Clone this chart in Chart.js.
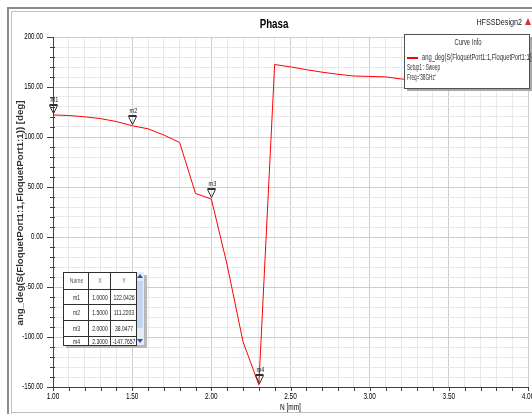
<!DOCTYPE html>
<html>
<head>
<meta charset="utf-8">
<script src="https://cdn.jsdelivr.net/npm/chart.js@4.4.0/dist/chart.umd.min.js"></script>
<style>
  html, body { margin: 0; padding: 0; background: #fff; }
</style>
</head>
<body>
<canvas id="myChart" width="532" height="414"></canvas>
<script>
// sweep N [mm] and phase of S(FloquetPort1:1,FloquetPort1:1) [deg]
const nValues = [1.0, 1.1, 1.2, 1.3, 1.4, 1.5, 1.6, 1.7, 1.8, 1.9, 2.0,
                 2.1, 2.2, 2.3, 2.4, 2.5, 2.6, 2.7, 2.8, 2.9, 3.0,
                 3.1, 3.2, 3.3, 3.4, 3.5, 3.6, 3.7, 3.8, 3.9, 4.0];
const phaseValues = [122.04, 121.5, 120.2, 118.4, 115.5, 111.22, 108.2, 102.0, 94.5, 43.5, 38.05,
                     -28.0, -104.7, -147.77, 172.5, 170.1, 167.3, 164.8, 162.7, 161.0, 160.6,
                     160.1, 158.0, 157.2, 156.6, 156.0, 155.5, 155.0, 154.6, 154.2, 153.8];

// markers m1..m4
const markerNames = ['m1', 'm2', 'm3', 'm4'];
const markerX = [1.0, 1.5, 2.0, 2.3];
const markerY = [122.0426, 111.2203, 38.0477, -147.7657];

// labelled (major) ticks
const xMajorTicks = [1.0, 1.5, 2.0, 2.5, 3.0, 3.5, 4.0];
const yMajorTicks = [-150, -100, -50, 0, 50, 100, 150, 200];

const plotTitle = 'Phasa';
const designName = 'HFSSDesign2';
const xTitle = 'N [mm]';
const curveLabel = 'ang_deg(S(FloquetPort1:1,FloquetPort1:1))';
const yTitle = curveLabel + ' [deg]';
const curveInfo = ['Setup1 : Sweep', "Freq='38GHz'"];

const FONT = "'Liberation Sans', Arial, sans-serif";

function isMajor(list, v) {
    return list.some(m => Math.abs(m - v) < 1e-6);
}

// the original uses a condensed face, squeeze text horizontally
function narrowText(ctx, s, x, y, font, sx, align, rot) {
    ctx.save();
    ctx.font = font;
    ctx.textAlign = align || 'left';
    ctx.textBaseline = 'middle';
    ctx.translate(x, y);
    if (rot) ctx.rotate(rot);
    ctx.scale(sx, 1);
    ctx.fillText(s, 0, 0);
    ctx.restore();
}

const overlay = {
    id: 'overlay',
    afterDraw(chart) {
        const {ctx, chartArea, scales: {x, y}} = chart;
        ctx.save();

        // axis ticks and labels
        ctx.strokeStyle = '#404040';
        ctx.lineWidth = 1;
        ctx.beginPath();
        y.ticks.forEach(t => {
            const py = Math.round(y.getPixelForValue(t.value)) + 0.5;
            if (isMajor(yMajorTicks, t.value)) {
                ctx.moveTo(chartArea.left - 6, py);
                ctx.lineTo(chartArea.left, py);
            } else {
                ctx.moveTo(chartArea.left - 3, py);
                ctx.lineTo(chartArea.left + 2, py);
            }
        });
        x.ticks.forEach(t => {
            const px = Math.round(x.getPixelForValue(t.value)) + 0.5;
            ctx.moveTo(px, chartArea.bottom);
            ctx.lineTo(px, chartArea.bottom + 4);
        });
        ctx.stroke();

        ctx.fillStyle = '#000000';
        y.ticks.forEach(t => {
            if (!isMajor(yMajorTicks, t.value)) return;
            narrowText(ctx, t.value.toFixed(2), chartArea.left - 10, y.getPixelForValue(t.value),
                       '8.5px ' + FONT, 0.72, 'right');
        });
        x.ticks.forEach(t => {
            if (!isMajor(xMajorTicks, t.value)) return;
            narrowText(ctx, t.value.toFixed(2), x.getPixelForValue(t.value), chartArea.bottom + 10,
                       '8.5px ' + FONT, 0.76, 'center');
        });
        narrowText(ctx, xTitle, (chartArea.left + chartArea.right) / 2, chartArea.bottom + 21,
                   '8.5px ' + FONT, 0.76, 'center');
        ctx.fillStyle = '#303030';
        narrowText(ctx, yTitle, 20, (chartArea.top + chartArea.bottom) / 2 + 1,
                   'bold 9.5px ' + FONT, 1.02, 'center', -Math.PI / 2);

        // window frame
        ctx.strokeStyle = '#8c8c8c';
        ctx.lineWidth = 2;
        ctx.beginPath();
        ctx.moveTo(8, 414); ctx.lineTo(8, 8); ctx.lineTo(532, 8);
        ctx.stroke();
        ctx.strokeStyle = '#c0c0c0';
        ctx.lineWidth = 1;
        ctx.beginPath();
        ctx.moveTo(11.5, 414); ctx.lineTo(11.5, 11.5); ctx.lineTo(532, 11.5);
        ctx.moveTo(11, 412.5); ctx.lineTo(532, 412.5);
        ctx.stroke();

        // title, design name + icon
        ctx.fillStyle = '#000000';
        narrowText(ctx, plotTitle, 274, 24, 'bold 13px ' + FONT, 0.75, 'center');
        ctx.fillStyle = '#202020';
        narrowText(ctx, designName, 522, 23, '9px ' + FONT, 0.8, 'right');
        ctx.fillStyle = '#d83030';
        ctx.beginPath();
        ctx.moveTo(528, 18); ctx.lineTo(531, 25); ctx.lineTo(525, 25);
        ctx.closePath();
        ctx.fill();

        // markers
        ctx.strokeStyle = '#303030';
        ctx.lineWidth = 1;
        markerNames.forEach((name, i) => {
            const px = Math.round(x.getPixelForValue(markerX[i])) + 0.5;
            const py = Math.round(y.getPixelForValue(markerY[i])) - 1.5;
            ctx.beginPath();
            ctx.moveTo(px, py);
            ctx.lineTo(px - 4, py - 8);
            ctx.lineTo(px + 4, py - 8);
            ctx.closePath();
            ctx.stroke();
            ctx.beginPath();
            ctx.moveTo(px - 4, py - 9); ctx.lineTo(px + 4, py - 9);
            ctx.stroke();
            ctx.fillStyle = '#202020';
            narrowText(ctx, name, px + 1, py - 14, '8px ' + FONT, 0.7, 'center');
        });

        // curve info box
        const ds = chart.data.datasets[0];
        const bx = 404, by = 34, bw = 125, bh = 54;
        ctx.fillStyle = '#a8a8a8';
        ctx.fillRect(bx + 3, by + 3, bw, bh);
        ctx.fillStyle = '#ffffff';
        ctx.fillRect(bx, by, bw, bh);
        ctx.strokeStyle = '#505050';
        ctx.strokeRect(bx + 0.5, by + 0.5, bw, bh);
        ctx.fillStyle = '#303030';
        narrowText(ctx, 'Curve Info', bx + 64, by + 9, '8.5px ' + FONT, 0.69, 'center');
        ctx.strokeStyle = ds.borderColor;
        ctx.lineWidth = 2;
        ctx.beginPath();
        ctx.moveTo(bx + 3, by + 24); ctx.lineTo(bx + 14, by + 24);
        ctx.stroke();
        narrowText(ctx, ds.label, bx + 18, by + 24, '8.5px ' + FONT, 0.68);
        curveInfo.forEach((s, i) => narrowText(ctx, s, bx + 3, by + 34 + i * 10, '8.5px ' + FONT, 0.55));

        // marker table
        const tx = 63, ty = 272, colW = [25, 22, 26], rowH = [17, 15, 16, 16, 9];
        const tw = colW.reduce((a, b) => a + b, 0);
        const th = rowH.reduce((a, b) => a + b, 0);
        ctx.fillStyle = '#b8b8b8';
        ctx.fillRect(tx + 3, ty + 3, tw + 8, th);
        ctx.fillStyle = '#ffffff';
        ctx.fillRect(tx, ty, tw, th);
        // scrollbar
        ctx.fillStyle = '#e4ecf8';
        ctx.fillRect(tx + tw, ty, 8, th);
        ctx.fillStyle = '#c4d6f0';
        ctx.fillRect(tx + tw + 1, ty + 9, 6, 47);
        ctx.fillStyle = '#2050c8';
        ctx.beginPath();
        ctx.moveTo(tx + tw + 4, ty + 2); ctx.lineTo(tx + tw + 7, ty + 6); ctx.lineTo(tx + tw + 1, ty + 6);
        ctx.closePath(); ctx.fill();
        ctx.beginPath();
        ctx.moveTo(tx + tw + 4, ty + th - 2); ctx.lineTo(tx + tw + 7, ty + th - 6); ctx.lineTo(tx + tw + 1, ty + th - 6);
        ctx.closePath(); ctx.fill();

        ctx.strokeStyle = '#303030';
        ctx.lineWidth = 1;
        ctx.strokeRect(tx + 0.5, ty + 0.5, tw, th);
        ctx.beginPath();
        let cx = tx;
        colW.slice(0, -1).forEach(w => { cx += w; ctx.moveTo(cx + 0.5, ty); ctx.lineTo(cx + 0.5, ty + th); });
        let ry = ty;
        rowH.slice(0, -1).forEach(h => { ry += h; ctx.moveTo(tx, ry + 0.5); ctx.lineTo(tx + tw, ry + 0.5); });
        ctx.stroke();

        const header = ['Name', 'X', 'Y'];
        const cell = (col, row, s, color) => {
            const x0 = tx + colW.slice(0, col).reduce((a, b) => a + b, 0);
            const y0 = ty + rowH.slice(0, row).reduce((a, b) => a + b, 0);
            ctx.fillStyle = color;
            narrowText(ctx, s, x0 + colW[col] / 2 + 1, y0 + Math.min(rowH[row], 15) / 2 + 1, '8px ' + FONT, 0.63, 'center');
        };
        header.forEach((h, c) => cell(c, 0, h, '#606060'));
        markerNames.forEach((name, i) => {
            cell(0, i + 1, name, '#202020');
            cell(1, i + 1, markerX[i].toFixed(4), '#202020');
            cell(2, i + 1, markerY[i].toFixed(4), '#202020');
        });

        ctx.restore();
    }
};

new Chart(document.getElementById('myChart'), {
    type: 'line',
    data: {
        datasets: [{
            label: curveLabel,
            data: nValues.map((n, i) => ({x: n, y: phaseValues[i]})),
            borderColor: '#ff0000',
            backgroundColor: '#ff0000',
            borderWidth: 1,
            pointRadius: 0,
            fill: false,
            tension: 0
        }]
    },
    options: {
        responsive: false,
        animation: false,
        layout: {padding: {left: 0, right: 4, top: 37, bottom: 0}},
        plugins: {
            legend: {display: false},
            tooltip: {enabled: false}
        },
        scales: {
            x: {
                type: 'linear',
                min: 1,
                max: 4,
                afterFit(scale) { scale.height = 27; scale.paddingLeft = 0; scale.paddingRight = 0; },
                ticks: {stepSize: 0.1, autoSkip: false, display: false},
                grid: {
                    drawTicks: false,
                    color: c => isMajor(xMajorTicks, c.tick.value) ? '#cdcdcd' : '#e8e8e8'
                },
                border: {display: true, color: '#404040', width: 1}
            },
            y: {
                type: 'linear',
                min: -150,
                max: 200,
                afterFit(scale) { scale.width = 53; scale.paddingTop = 0; scale.paddingBottom = 0; },
                ticks: {stepSize: 10, autoSkip: false, display: false},
                grid: {
                    drawTicks: false,
                    color: c => isMajor(yMajorTicks, c.tick.value) ? '#cdcdcd' : '#e8e8e8'
                },
                border: {display: true, color: '#404040', width: 1}
            }
        }
    },
    plugins: [overlay]
});
</script>
</body>
</html>
